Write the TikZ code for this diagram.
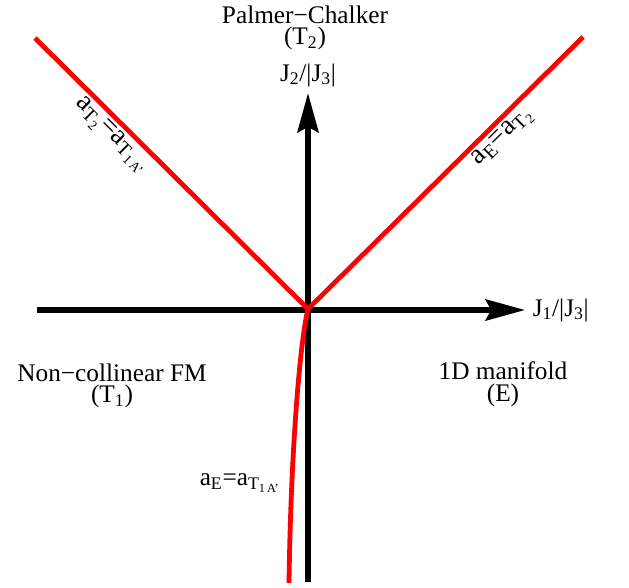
\documentclass[tikz,border=0pt]{standalone}
\usepackage{fontspec}
\setmainfont{Liberation Serif}
\usetikzlibrary{positioning, arrows.meta}

\begin{document}
\begin{tikzpicture}[
        x=0.025cm, y=-0.025cm,
        font=\fontsize{18}{15.5}\selectfont,
        axis/.style={line width=4pt, -{Stealth[length=28pt, width=15pt, inset=4pt]}},
        boundary/.style={red, line width=3.4pt},
        phase/.style={align=center},
        border/.style={text=black, inner sep=2pt, font=\fontsize{20}{22}\selectfont},
      ]
        \useasboundingbox (0,0) rectangle (629,587);

        % axes
        \coordinate (O) at (308,309);
        \coordinate (xl) at (37,310);
        \coordinate (xr) at (525,310);
        \coordinate (yb) at (308,582);
        \coordinate (yt) at (308,93);
        \draw[axis] (xl) -- (xr);
        \draw[axis] (yb) -- (yt);
        \node[right=2pt of xr] (J1) {J\textsubscript{1}/|J\textsubscript{3}|};
        \node[above=1pt of yt] (J2) {J\textsubscript{2}/|J\textsubscript{3}|};

        % phase boundaries
        \coordinate (UL) at (35,38);
        \coordinate (UR) at (583,37);
        \coordinate (LB) at (289,583);
        \draw[boundary] (UL) -- node[sloped, below, pos=0.32, border] {a\textsubscript{T\textsubscript{2}}=a\textsubscript{T\textsubscript{1\,A'}}} (O);
        \draw[boundary] (O) -- node[sloped, below, pos=0.67, border] {a\textsubscript{E}=a\textsubscript{T\textsubscript{2}}} (UR);
        \draw[boundary] (O) .. controls (301,336) and (291,440) .. (LB);
        \node (EA) at (240,483) {a\textsubscript{E}=a\textsubscript{T\textsubscript{1\,A'}}};

        % phases
        \node[phase] (PC) at (305,28) {Palmer−Chalker\\(T\textsubscript{2})};
        \node[phase] (FM) at (112,386) {Non−collinear FM\\(T\textsubscript{1})};
        \node[phase] (ED) at (503,384) {1D manifold\\(E)};
      \end{tikzpicture}
\end{document}
